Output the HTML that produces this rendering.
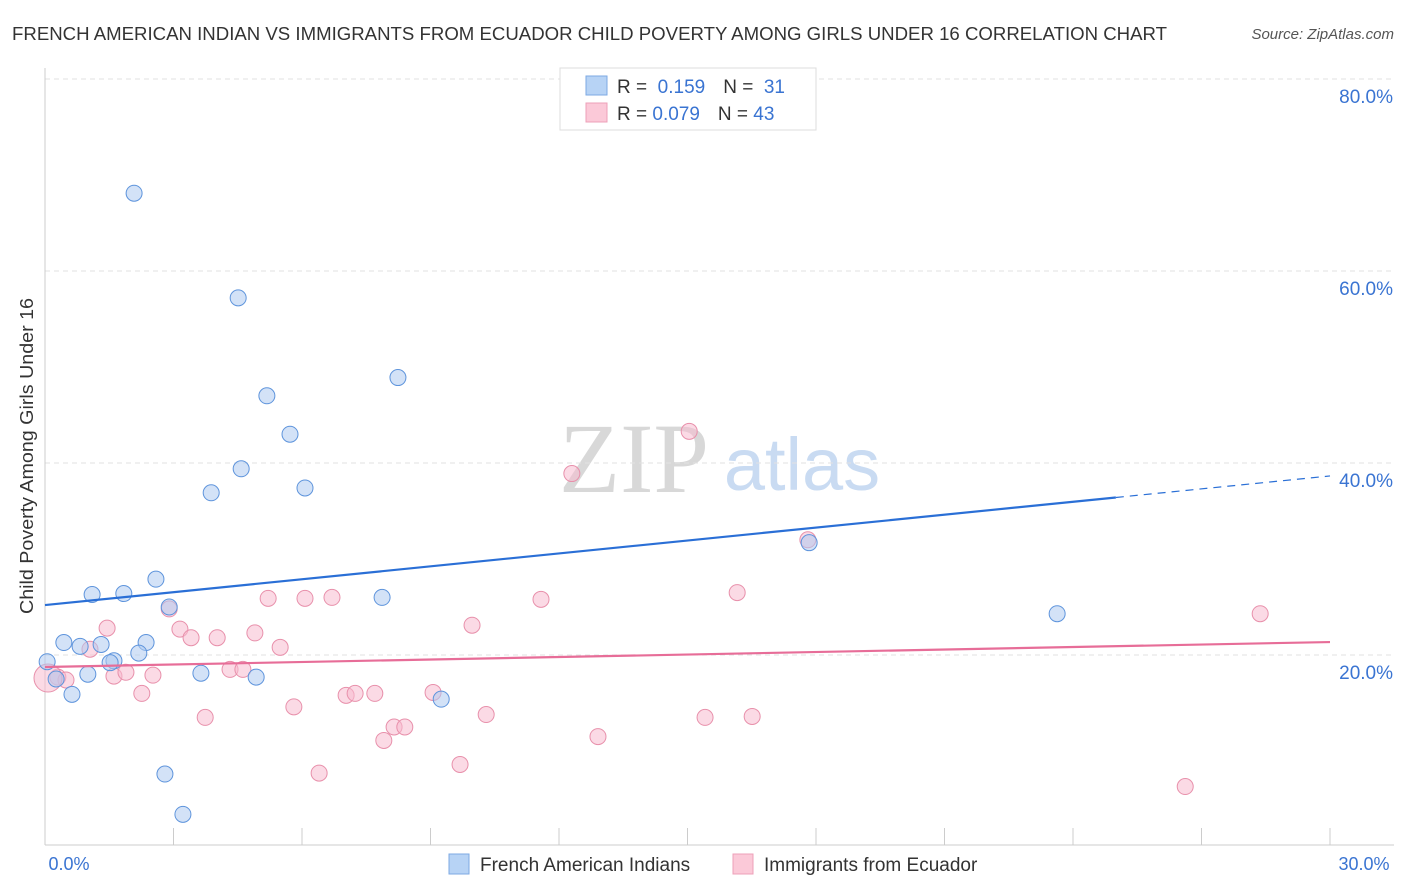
<!DOCTYPE html>
<html><head><meta charset="utf-8"><style>
body{margin:0;background:#fff;font-family:"Liberation Sans",sans-serif;}
#wrap{position:relative;width:1406px;height:892px;overflow:hidden;}
</style></head><body>
<div id="wrap">
<svg id="chart" width="1406" height="892">
<text x="12" y="40" font-size="18" fill="#333" textLength="1155" lengthAdjust="spacingAndGlyphs">FRENCH AMERICAN INDIAN VS IMMIGRANTS FROM ECUADOR CHILD POVERTY AMONG GIRLS UNDER 16 CORRELATION CHART</text>
<text x="1394" y="39" font-size="15" fill="#555" font-style="italic" text-anchor="end">Source: ZipAtlas.com</text>
<text x="33" y="456" font-size="18" fill="#333" text-anchor="middle" textLength="316" lengthAdjust="spacingAndGlyphs" transform="rotate(-90 33 456)">Child Poverty Among Girls Under 16</text>
<g><text x="634" y="492" font-size="100" fill="#d8d8d8" font-family="Liberation Serif,serif" text-anchor="middle">ZIP</text><text x="802" y="490" font-size="74" fill="#c9dbf2" text-anchor="middle">atlas</text></g>
<g id="grid"></g><g id="axes"></g><g id="marks"></g>
<g>
<rect x="560" y="68" width="256" height="62" fill="#fff" stroke="#ddd"/>
<rect x="586" y="76" width="21" height="19" fill="#b7d3f5" stroke="#7ea9e3"/>
<rect x="586" y="103" width="21" height="19" fill="#fbc9d8" stroke="#eea0b8"/>
<text x="617" y="93" font-size="19" fill="#333">R = <tspan fill="#3a74d2">&#160;0.159</tspan><tspan dx="18">N = </tspan><tspan fill="#3a74d2">&#160;31</tspan></text>
<text x="617" y="120" font-size="19" fill="#333">R = <tspan fill="#3a74d2">0.079</tspan><tspan dx="18">N = </tspan><tspan fill="#3a74d2">43</tspan></text>
</g>
<g>
<rect x="449" y="854" width="20" height="20" fill="#b7d3f5" stroke="#7ea9e3"/>
<text x="480" y="871" font-size="19" fill="#333">French American Indians</text>
<rect x="733" y="854" width="20" height="20" fill="#fbc9d8" stroke="#eea0b8"/>
<text x="764" y="871" font-size="19" fill="#333">Immigrants from Ecuador</text>
</g>
</svg>
</div>
<script>
const yTicks=[20,40,60,80];
const yTickLabels=["20.0%","40.0%","60.0%","80.0%"];
const xTickCount=10;
const blueX=[2.08,4.51,5.18,8.24,5.72,4.58,3.88,6.07,17.84,23.63,2.59,1.10,1.84,2.90,7.87,0.44,0.82,1.31,2.36,2.19,1.61,1.52,0.05,0.26,1.00,3.64,4.93,0.63,9.25,2.80,3.22];
const blueY=[68.1,57.2,47.0,48.9,43.0,39.4,36.9,37.4,31.7,24.3,27.9,26.3,26.4,25.0,26.0,21.3,20.9,21.1,21.3,20.2,19.4,19.2,19.3,17.5,18.0,18.1,17.7,15.9,15.4,7.6,3.4];
const pinkX=[15.04,12.30,17.81,16.16,28.37,11.58,5.21,6.07,6.70,2.90,1.45,3.15,9.97,3.41,4.02,4.90,5.49,1.05,0.30,0.49,0.07,1.61,1.89,2.52,4.32,4.62,2.26,3.74,5.81,7.03,7.24,7.70,9.06,8.15,8.40,7.91,10.30,12.91,15.41,16.51,6.40,9.69,26.62];
const pinkY=[43.3,38.9,32.0,26.5,24.3,25.8,25.9,25.9,26.0,24.8,22.8,22.7,23.1,21.8,21.8,22.3,20.8,20.6,17.7,17.4,17.6,17.8,18.2,17.9,18.5,18.5,16.0,13.5,14.6,15.8,16.0,16.0,16.1,12.5,12.5,11.1,13.8,11.5,13.5,13.6,7.7,8.6,6.3];
const blueTrend=[25.2,38.65];
const pinkTrend=[18.75,21.35];
const blueSolidEnd=25;
const NS="http://www.w3.org/2000/svg";
const X=v=>45+v/30*1285, Y=v=>847-v/20*192;
function mk(p,t,a){const e=document.createElementNS(NS,t);for(const k in a)e.setAttribute(k,a[k]);p.appendChild(e);return e;}
const grid=document.getElementById('grid'),axes=document.getElementById('axes'),marks=document.getElementById('marks');
yTicks.forEach((t,i)=>{
 const l=mk(grid,'line',{x1:45,x2:1394,y1:Y(t),y2:Y(t),stroke:'#e2e2e2','stroke-dasharray':'5,4'});
 
 
 const tx=mk(grid,'text',{x:1393,y:Y(t)+24,'font-size':19,fill:'#3a74d2','text-anchor':'end'});
 tx.textContent=yTickLabels[i];
 
 
});
const xl=mk(axes,'line',{x1:45,x2:1394,y1:845,y2:845,stroke:'#ccc'});


const yl=mk(axes,'line',{x1:45,x2:45,y1:68,y2:845,stroke:'#ccc'});


for(let i=1;i<=xTickCount;i++){const t=mk(axes,'line',{x1:X(i*3),x2:X(i*3),y1:828,y2:845,stroke:'#ccc'});
 
 }
[[0,'0.0%',69],[30,'30.0%',1364]].forEach(d=>{const t=mk(axes,'text',{x:d[2],y:870,'font-size':18,fill:'#3a74d2','text-anchor':'middle'});t.textContent=d[1];
 
 });
function dots(xs,ys,fill,stroke,name){xs.forEach((x,i)=>{const c=mk(marks,'circle',{cx:X(x),cy:Y(ys[i]),r:(name=='pink-point'&&i==20)?14:8,fill:fill,'fill-opacity':0.55,stroke:stroke,'stroke-width':1});
 
 });}
dots(pinkX,pinkY,'#f8bccf','#e890ab','pink-point');
dots(blueX,blueY,'#aecbf0','#5e94dc','blue-point');
const by=x=>blueTrend[0]+(blueTrend[1]-blueTrend[0])*x/30;
const b1=mk(marks,'line',{x1:X(0),y1:Y(by(0)),x2:X(blueSolidEnd),y2:Y(by(blueSolidEnd)),stroke:'#2a6fd6','stroke-width':2.2});


const b2=mk(marks,'line',{x1:X(blueSolidEnd),y1:Y(by(blueSolidEnd)),x2:X(30),y2:Y(by(30)),stroke:'#2a6fd6','stroke-width':1.2,'stroke-dasharray':'8,6'});


const p1=mk(marks,'line',{x1:X(0),y1:Y(pinkTrend[0]),x2:X(30),y2:Y(pinkTrend[1]),stroke:'#e76d98','stroke-width':2.2});


</script>
</body></html>
